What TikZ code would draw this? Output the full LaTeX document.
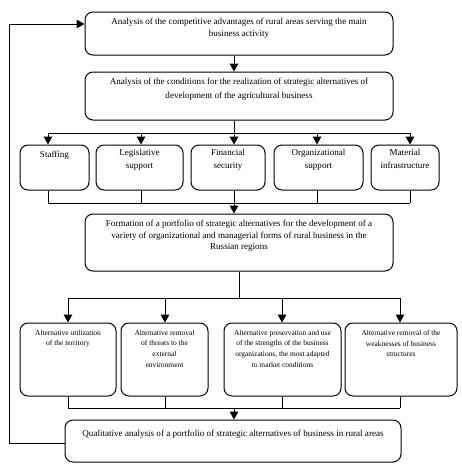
\documentclass[tikz,border=0pt]{standalone}
\usepackage{fontspec}
\setmainfont{Liberation Serif}
\usetikzlibrary{arrows.meta}
\begin{document}
\begin{tikzpicture}[x=0.75pt,y=-0.75pt,
  box/.style={draw, rounded corners=6pt, line width=0.75pt, inner sep=0pt},
  txt/.style={font=\fontsize{6.8}{9}\selectfont, align=center, inner sep=0pt, anchor=north},
  stxt/.style={font=\fontsize{5.6}{8}\selectfont, align=center, inner sep=0pt, anchor=north},
  ln/.style={line width=0.75pt},
  arr/.style={line width=0.75pt, -{Triangle[width=6.5pt,length=6pt]}}]
\useasboundingbox (0,0) rectangle (461,468);
% x positions
\foreach \n/\v in {a/48,b/141,c/234,d/317,e/410,f/68,g/165,h/282,i/400,j/239,k/9}
  \coordinate (x\n) at (\v,0);
% boxes
\node[box, minimum width=308*0.75pt, minimum height=43*0.75pt] (b1) at (239,33.5) {};
\node[box, minimum width=308*0.75pt, minimum height=48*0.75pt] (b2) at (239,96) {};
\node[box, minimum width=69*0.75pt, minimum height=45*0.75pt] (s1) at (54.5,167.5) {};
\node[box, minimum width=87*0.75pt, minimum height=45*0.75pt] (s2) at (139.5,167.5) {};
\node[box, minimum width=74*0.75pt, minimum height=45*0.75pt] (s3) at (228,167.5) {};
\node[box, minimum width=89*0.75pt, minimum height=45*0.75pt] (s4) at (318.5,167.5) {};
\node[box, minimum width=68*0.75pt, minimum height=45*0.75pt] (s5) at (405,167.5) {};
\node[box, minimum width=308*0.75pt, minimum height=57*0.75pt] (b3) at (239,242.5) {};
\node[box, minimum width=96*0.75pt, minimum height=73*0.75pt] (a1) at (68,359.5) {};
\node[box, minimum width=87*0.75pt, minimum height=73*0.75pt] (a2) at (164.5,359.5) {};
\node[box, minimum width=117*0.75pt, minimum height=73*0.75pt] (a3) at (282.5,359.5) {};
\node[box, minimum width=112*0.75pt, minimum height=73*0.75pt] (a4) at (401,359.5) {};
\node[box, minimum width=336*0.75pt, minimum height=42*0.75pt] (b4) at (233,441) {};
% texts
\node[txt] (t1) at ([yshift=-4.5pt]b1.north) {Analysis of the competitive advantages of rural areas serving the main\\business activity};
\node[txt, font=\fontsize{6.8}{11}\selectfont] (t2) at ([yshift=-4.5pt]b2.north) {Analysis of the conditions for the realization of strategic alternatives of\\development of the agricultural business};
\node[txt, font=\fontsize{6.8}{9.75}\selectfont] (u1) at ([yshift=-5pt]s1.north) {Staffing};
\node[txt, font=\fontsize{6.8}{9.75}\selectfont] (u2) at ([yshift=-3.5pt]s2.north) {Legislative\\support};
\node[txt, font=\fontsize{6.8}{9.75}\selectfont] (u3) at ([yshift=-3.5pt]s3.north) {Financial\\security};
\node[txt, font=\fontsize{6.8}{9.75}\selectfont] (u4) at ([yshift=-3.5pt]s4.north) {Organizational\\support};
\node[txt, font=\fontsize{6.8}{9.75}\selectfont] (u5) at ([yshift=-3.5pt]s5.north) {Material\\infrastructure};
\node[txt, font=\fontsize{6.8}{8.6}\selectfont] (t3) at ([yshift=-5pt]b3.north) {Formation of a portfolio of strategic alternatives for the development of a\\variety of organizational and managerial forms of rural business in the\\Russian regions};
\node[stxt] (v1) at ([yshift=-5.5pt]a1.north) {Alternative utilization\\of the territory};
\node[stxt] (v2) at ([yshift=-5.5pt]a2.north) {Alternative removal\\of threats to the\\external\\environment};
\node[stxt] (v3) at ([yshift=-5.5pt]a3.north) {Alternative preservation and use\\of the strengths of the business\\organizations, the most adapted\\to market conditions};
\node[stxt] (v4) at ([yshift=-5.5pt]a4.north) {Alternative removal of the\\weaknesses of business\\structures};
\node[txt] (t4) at ([yshift=-7.5pt]b4.north) {Qualitative analysis of a portfolio of strategic alternatives of business in rural areas};
% connectors
\coordinate (h1) at (0,133);
\coordinate (h2) at (0,203);
\coordinate (h3) at (0,298);
\coordinate (h4) at (0,408);
\coordinate (h5) at (0,443);
\coordinate (h6) at (0,24);
\draw[arr] (b1.south -| xc) -- (b2.north -| xc);
\draw[ln] (b2.south -| xc) -- (h1 -| xc);
\draw[ln] (h1 -| xa) -- (h1 -| xe);
\foreach \s/\x in {s1/xa,s2/xb,s3/xc,s4/xd,s5/xe}{
  \draw[arr] (h1 -| \x) -- (\s.north -| \x);
  \draw[ln] (\s.south -| \x) -- (h2 -| \x);
}
\draw[ln] (h2 -| xa) -- (h2 -| xe);
\draw[arr] (h2 -| xc) -- (b3.north -| xc);
\draw[ln] (b3.south -| xj) -- (h3 -| xj);
\draw[ln] (h3 -| xf) -- (h3 -| xi);
\foreach \s/\x in {a1/xf,a2/xg,a3/xh,a4/xi}{
  \draw[arr] (h3 -| \x) -- (\s.north -| \x);
  \draw[ln] (\s.south -| \x) -- (h4 -| \x);
}
\draw[ln] (h4 -| xf) -- (h4 -| xi);
\draw[arr] (h4 -| xc) -- (b4.north -| xc);
\draw[arr] (b4.west |- h5) -- (h5 -| xk) -- (h6 -| xk) -- (b1.west |- h6);
\end{tikzpicture}
\end{document}
